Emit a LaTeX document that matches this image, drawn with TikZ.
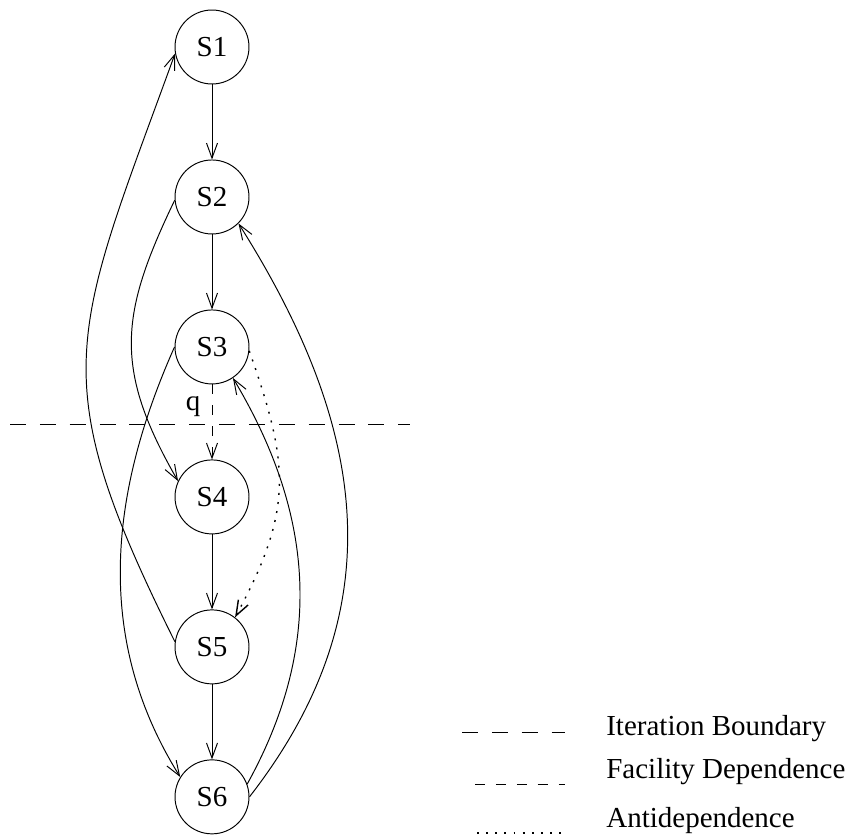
\documentclass[tikz,border=0pt]{standalone}
\usepackage{fontspec}
\setmainfont{Liberation Serif}
\usetikzlibrary{arrows.meta}

\tikzset{
  stmt/.style={circle, draw, minimum size=1.48cm, inner sep=0pt},
  facility/.style={dash pattern=on 5.7pt off 6.2pt},
  boundary/.style={dash pattern=on 9.1pt off 7.9pt},
  anti/.style={line width=0.8pt, dash pattern=on 1.1pt off 4.1pt},
}

\begin{document}
\begin{tikzpicture}[x=0.02cm, y=-0.02cm, node distance=3cm, line width=0.55pt,
    >={Straight Barb[length=3mm,width=2.2mm]},
    font=\fontsize{16.5}{20}\selectfont]
        \useasboundingbox (0,0) rectangle (852,838);

        \node[stmt] (S1) at (212,47) {S1};
        \node[stmt] (S2) [below of=S1] {S2};
        \node[stmt] (S3) [below of=S2] {S3};
        \node[stmt] (S4) [below of=S3] {S4};
        \node[stmt] (S5) [below of=S4] {S5};
        \node[stmt] (S6) [below of=S5] {S6};

        % chain down the middle
        \draw[->] (S1) -- (S2);
        \draw[->] (S2) -- (S3);
        \draw[->, facility] (S3) -- (S4) node[pos=0.3, left=3pt] {q};
        \draw[->] (S4) -- (S5);
        \draw[->] (S5) -- (S6);

        % long arcs
        \draw[->] (S5.172) .. controls (42,375) and (72,337) .. (S1.190);
        \draw[->] (S2.185) .. controls (120,314) and (113,368) .. (S4.155);
        \draw[->] (S3.180) .. controls (109,494) and (94,639) .. (S6.148);
        \draw[->] (S6.20) .. controls (323,647) and (316,517) .. (S3.304);
        \draw[->] (S6.0) .. controls (394,611) and (369,430) .. (S2.315);
        \draw[->, anti] (S3.354) .. controls (289,464) and (294,509) .. (S5.52);

        % iteration boundary
        \draw[boundary] (10,424) -- (410,424);

        % legend
        \draw[boundary] (462,732) -- (565,732);
        \node[anchor=base west] (lib) at (600,735) {Iteration Boundary};
        \draw[facility] (475,784) -- (565,784);
        \node[anchor=base west] (lfd) at (600,778) {Facility Dependence};
        \draw[anti] (477,833) -- (565,833);
        \node[anchor=base west] (lad) at (600,827) {Antidependence};
    \end{tikzpicture}
\end{document}
